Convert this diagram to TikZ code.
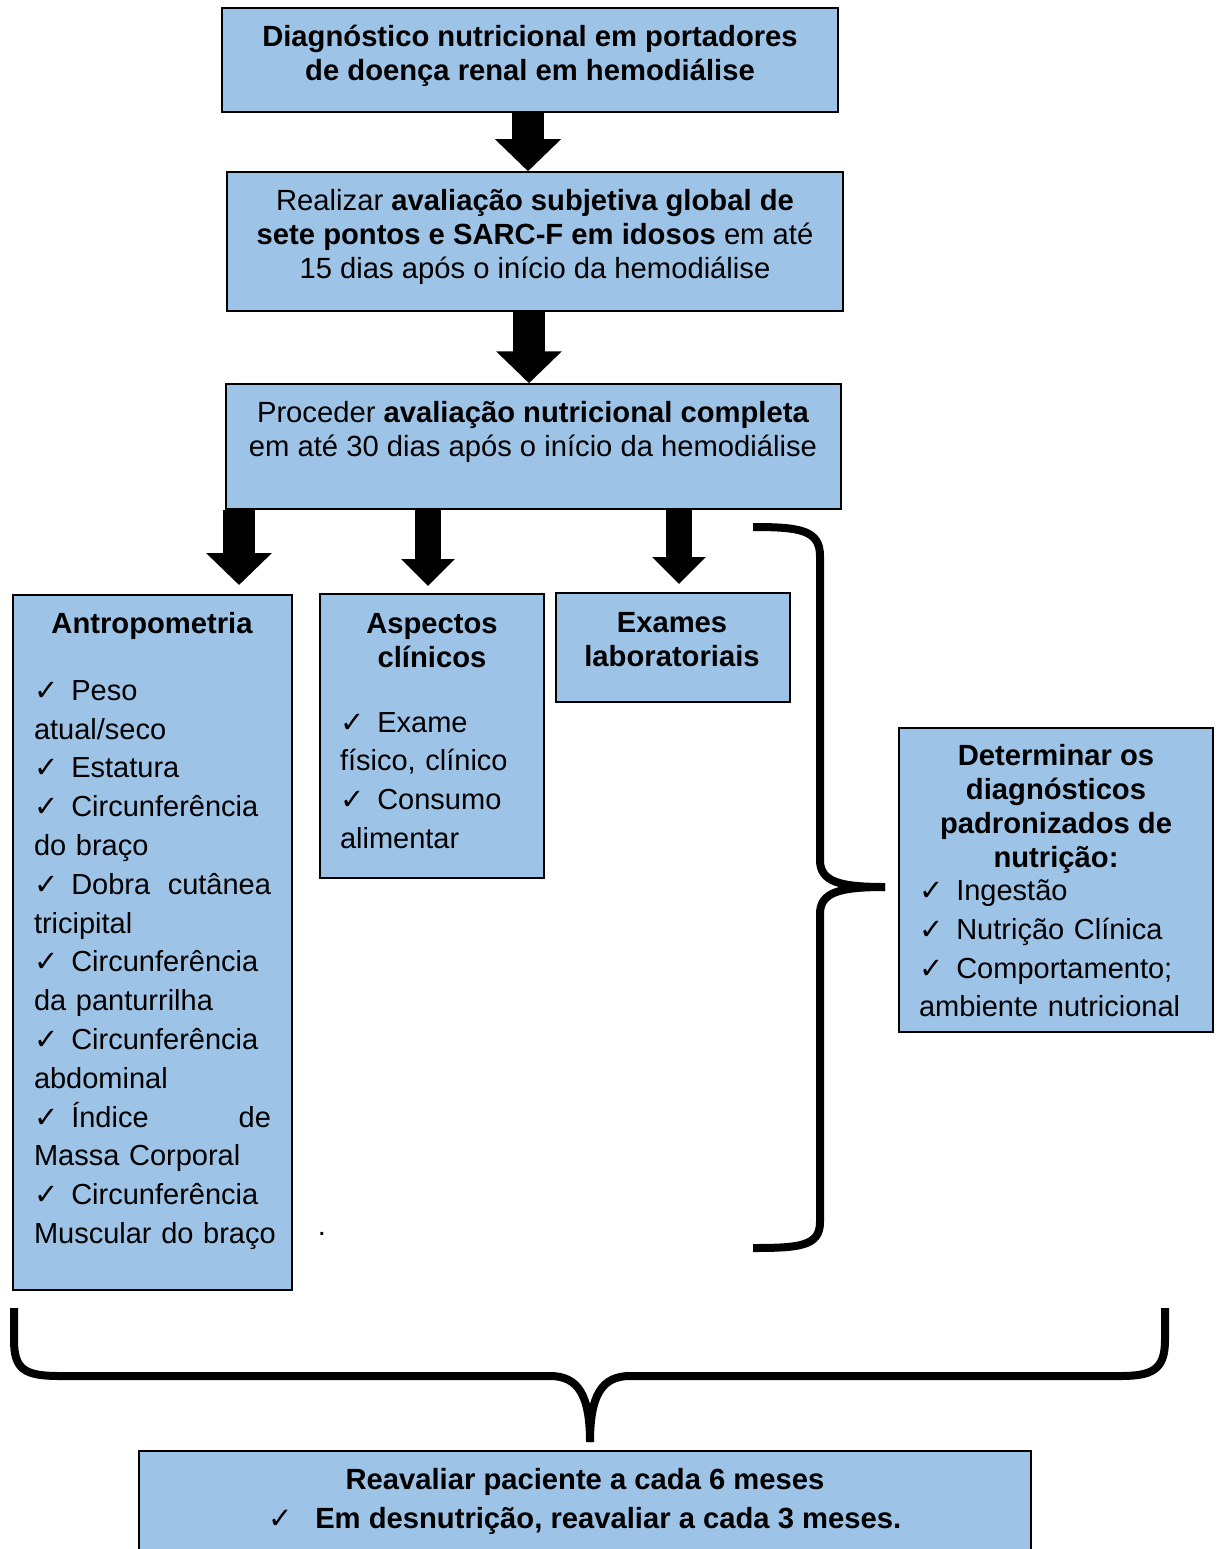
\documentclass[tikz,border=0pt]{standalone}
\usepackage{fontspec}
\setmainfont{Liberation Sans}
\newfontfamily\symfont{DejaVu Sans}
\usetikzlibrary{arrows.meta}
\definecolor{azulcaixa}{HTML}{9DC3E6}
\newcommand{\ckmark}{{\symfont\mdseries ✓}}
\newcommand{\ck}{\ckmark\hspace{13pt}}

\begin{document}
\begin{tikzpicture}[
    x=1pt, y=-1pt,
    line cap=butt,
    caixa/.style={draw=black, line width=1.5pt, fill=azulcaixa, inner sep=0pt},
    titulo/.style={font=\fontsize{29.2}{34}\selectfont\bfseries, align=center, inner sep=0pt},
    texto/.style={font=\fontsize{29.2}{34}\selectfont, align=center, inner sep=0pt},
    lista/.style={font=\fontsize{29}{38.8}\selectfont, align=left, inner sep=0pt},
    seta/.style={line width=32pt, -{Triangle[width=64pt,length=32pt]}},
    setap/.style={line width=26pt, -{Triangle[width=52pt,length=27pt]}},
    chave/.style={line width=8pt, line join=round}
]
\useasboundingbox (0,0) rectangle (1220,1549);

% -------------------------------------------------
% Caixas do fluxo principal
% -------------------------------------------------
\node[caixa, minimum width=616pt, minimum height=104pt] (diag) at (530,60) {};
\node[titulo] (diagtxt) at (530,56)
    {Diagnóstico nutricional em portadores\\de doença renal em hemodiálise};

\node[caixa, minimum width=616pt, minimum height=139pt] (aval) at (535,241.5) {};
\node[texto] (avaltxt) at (535,237)
    {Realizar \textbf{avaliação subjetiva global de}\\
     \textbf{sete pontos e SARC-F em idosos} em até\\
     15 dias após o início da hemodiálise};

\node[caixa, minimum width=615pt, minimum height=125pt] (comp) at (533.5,446.5) {};
\node[texto] (comptxt) at (533,432)
    {Proceder \textbf{avaliação nutricional completa}\\
     em até 30 dias após o início da hemodiálise};

% -------------------------------------------------
% Caixas da avaliação completa
% -------------------------------------------------
\node[caixa, minimum width=279pt, minimum height=695pt] (antro) at (152.5,942.5) {};
\node[titulo] (antrotit) at (152,626) {Antropometria};
\node[lista, text width=250pt] (antrolis) at (159,965)
    {\ck Peso\\
     atual/seco\\
     \ck Estatura\\
     \ck Circunferência\\
     do braço\\
     \makebox[237pt][l]{\ck Dobra\hfill cutânea}\\
     tricipital\\
     \ck Circunferência\\
     da panturrilha\\
     \ck Circunferência\\
     abdominal\\
     \makebox[237pt][l]{\ck Índice\hfill de}\\
     Massa Corporal\\
     \ck Circunferência\\
     Muscular do braço};

\node[caixa, minimum width=224pt, minimum height=284pt] (clin) at (432,736) {};
\node[titulo] (clintit) at (432,641) {Aspectos\\clínicos};
\node[lista, text width=184pt] (clinlis) at (432,780.5)
    {\ck Exame\\
     físico, clínico\\
     \ck Consumo\\
     alimentar};

\node[caixa, minimum width=234pt, minimum height=109pt] (exam) at (673,647.5) {};
\node[titulo] (examtit) at (672,640) {Exames\\laboratoriais};

\node[texto] (ponto) at (322,1234) {.};

% -------------------------------------------------
% Diagnósticos e reavaliação
% -------------------------------------------------
\node[caixa, minimum width=314pt, minimum height=304pt] (dnut) at (1056,880) {};
\node[titulo] (dnuttit) at (1056,809)
    {Determinar os\\diagnósticos\\padronizados de\\nutrição:};
\node[lista, text width=274pt] (dnutlis) at (1056,948.5)
    {\ck Ingestão\\
     \ck Nutrição Clínica\\
     \ck Comportamento;\\
     ambiente nutricional};

\node[caixa, minimum width=892pt, minimum height=114pt] (reav) at (585,1508) {};
\node[titulo, font=\fontsize{29.2}{39}\selectfont\bfseries] (reavtxt) at (585,1501.5)
    {Reavaliar paciente a cada 6 meses\\
     \ckmark\hspace{22pt}Em desnutrição, reavaliar a cada 3 meses.};

% -------------------------------------------------
% Setas
% -------------------------------------------------
\draw[seta] ([xshift=-2pt]diag.south) -- ([xshift=-2pt]diag.south |- aval.north);
\draw[seta] ([xshift=-6pt]aval.south) -- ([xshift=-6pt]aval.south |- comp.north);

\coordinate (pA) at (239,585);
\coordinate (pB) at (428,586);
\coordinate (pC) at (679,584);
\draw[seta]  (comp.south -| pA) -- (pA);
\draw[setap] (comp.south -| pB) -- (pB);
\draw[setap] (comp.south -| pC) -- (pC);

% -------------------------------------------------
% Chaves
% -------------------------------------------------
\draw[chave] (753,527) .. controls (800,527) and (820,530) .. (820,556)
    -- (820,860) .. controls (820,882) and (840,887) .. (885,887);
\draw[chave] (885,887) .. controls (840,887) and (820,892) .. (820,914)
    -- (820,1222) .. controls (820,1246) and (800,1248) .. (753,1248);

\draw[chave] (14,1308) -- (14,1340) .. controls (14,1370) and (25,1376) .. (60,1376)
    -- (550,1376) .. controls (578,1376) and (590,1395) .. (590,1442);
\draw[chave] (1165,1308) -- (1165,1340) .. controls (1165,1370) and (1152,1376) .. (1120,1376)
    -- (630,1376) .. controls (602,1376) and (590,1395) .. (590,1442);

\end{tikzpicture}
\end{document}
